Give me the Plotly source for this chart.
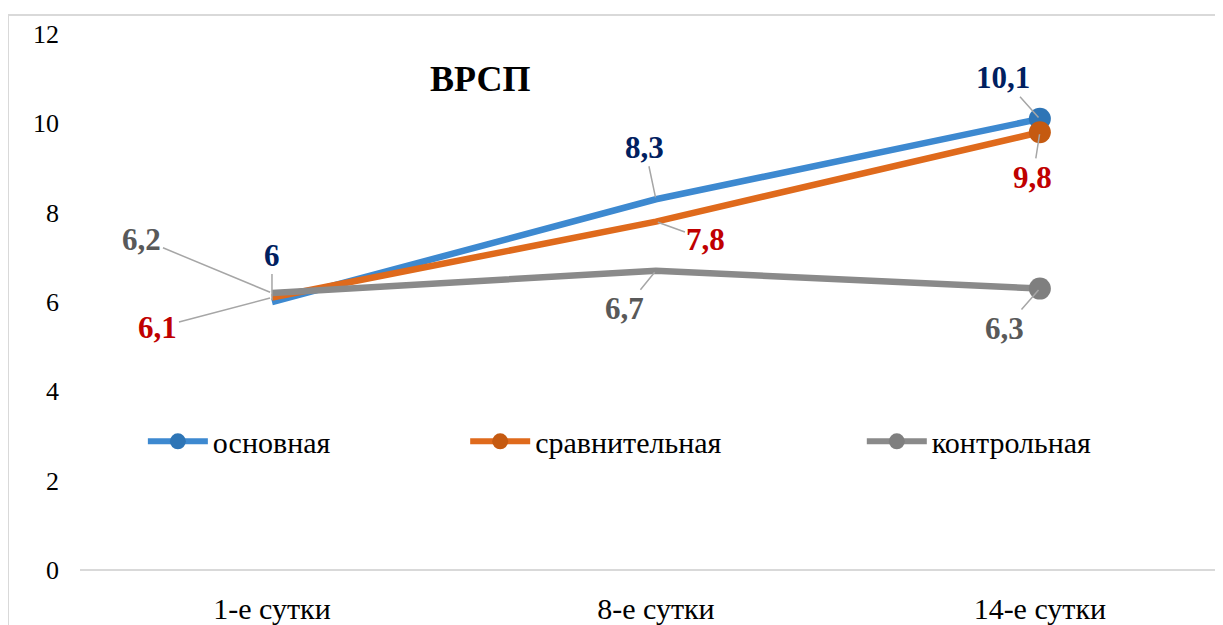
import plotly.graph_objects as go

categories = ["1-е сутки", "8-е сутки", "14-е сутки"]
series_names = ["основная", "сравнительная", "контрольная"]
osnovnaya = [6.0, 8.3, 10.1]
sravnit = [6.1, 7.8, 9.8]
kontrol = [6.2, 6.7, 6.3]
label_texts = {
    "основная": ["6", "8,3", "10,1"],
    "сравнительная": ["6,1", "7,8", "9,8"],
    "контрольная": ["6,2", "6,7", "6,3"],
}
y_ticks = [0, 2, 4, 6, 8, 10, 12]

values = [osnovnaya, sravnit, kontrol]
line_colors = ["#3D89D0", "#DF6A1C", "#8A8A8A"]
marker_colors = ["#2E75B6", "#C55A11", "#7F7F7F"]
label_colors = ["#002060", "#C00000", "#595959"]
# label offsets in pixels (ax, ay) per series per point
offsets = [
    [(0, -47), (-11, -52), (-37, -41)],
    [(-114, 30), (50, 18), (-7, 45)],
    [(-130, -54), (-31, 38), (-35, 40)],
]
legend_ids = ["legend", "legend2", "legend3"]
legend_x = [0.055, 0.337, 0.684]

FONT = "Times New Roman, Liberation Serif, Tinos, serif"

fig = go.Figure()
for i, (name, vals) in enumerate(zip(series_names, values)):
    fig.add_trace(go.Scatter(
        x=categories, y=vals, mode="lines",
        line=dict(color=line_colors[i], width=6.5),
        showlegend=False, hoverinfo="skip"))
    fig.add_trace(go.Scatter(
        x=categories[-1:], y=vals[-1:], mode="markers",
        marker=dict(color=marker_colors[i], size=22),
        showlegend=False, hoverinfo="skip"))
    fig.add_trace(go.Scatter(
        x=[None], y=[None], mode="lines+markers", name=name,
        line=dict(color=line_colors[i], width=6),
        marker=dict(color=marker_colors[i], size=16),
        legend=legend_ids[i], showlegend=True))
    for j, cat in enumerate(categories):
        ax, ay = offsets[i][j]
        fig.add_annotation(
            x=cat, y=vals[j], text="<b>" + label_texts[name][j] + "</b>",
            showarrow=True, arrowhead=0, arrowwidth=1.5, arrowcolor="#A6A6A6",
            ax=ax, ay=ay, standoff=2,
            font=dict(family=FONT, size=31, color=label_colors[i]))

legend_common = dict(orientation="h", yanchor="middle", y=0.24, xanchor="left",
                     font=dict(family=FONT, size=30, color="#000000"),
                     bgcolor="rgba(0,0,0,0)", itemwidth=60)
fig.update_layout(
    legend=dict(x=legend_x[0], **legend_common),
    legend2=dict(x=legend_x[1], **legend_common),
    legend3=dict(x=legend_x[2], **legend_common),
)

fig.add_annotation(xref="paper", yref="paper", x=(480 - 80) / 1143, y=(572 - 57) / 538,
                   text="<b>ВРСП</b>", showarrow=False,
                   font=dict(family=FONT, size=36, color="#000000"))

# outer chart border (left and top visible)
fig.add_shape(type="line", xref="paper", yref="paper",
              x0=(8 - 80) / 1143, x1=(8 - 80) / 1143, y0=1.0353, y1=-0.2,
              line=dict(color="#D9D9D9", width=2))
fig.add_shape(type="line", xref="paper", yref="paper",
              x0=(8 - 80) / 1143, x1=1.1, y0=1.0353, y1=1.0353,
              line=dict(color="#D9D9D9", width=2))

fig.update_layout(
    width=1215, height=617,
    margin=dict(l=72, r=0, t=26, b=53),
    paper_bgcolor="white", plot_bgcolor="white",
    font=dict(family=FONT, size=24, color="#000000"),
    xaxis=dict(range=[-0.5, 2.477], showgrid=False, zeroline=False, showline=False,
               ticks="", tickfont=dict(family=FONT, size=30), ticklabelstandoff=18),
    yaxis=dict(range=[0, 12], tickvals=y_ticks, showgrid=False, showline=False,
               zeroline=True, zerolinecolor="#D9D9D9", zerolinewidth=2,
               ticks="", tickfont=dict(family=FONT, size=26), ticklabelstandoff=20),
)

fig.write_html("out.html")
